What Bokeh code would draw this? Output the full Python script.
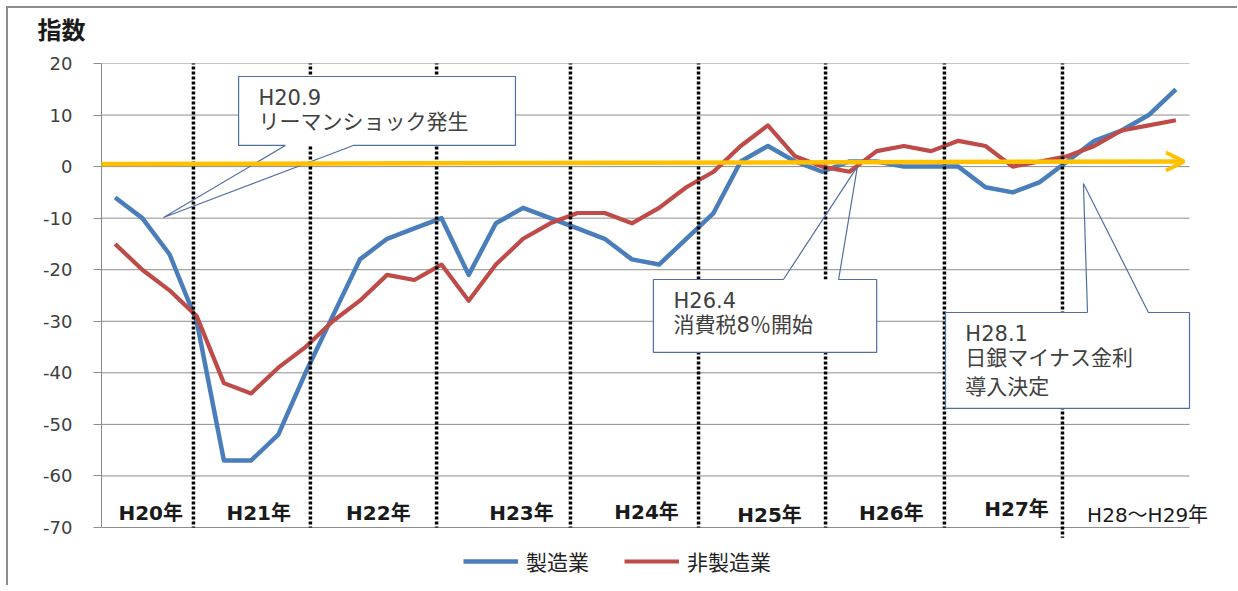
from bokeh.plotting import figure
from bokeh.models import Range1d, FixedTicker, Legend, LegendItem, Arrow, OpenHead
from bokeh.core.properties import value
from bokeh.embed import file_html
from bokeh.resources import INLINE

# ---- data (quarterly, H20 Q1 .. H29 Q4) ----
QUARTER_INDEX = list(range(40))
MANUFACTURING = [-6, -10, -17, -30, -57, -57, -52, -40, -29, -18, -14, -12,
                 -10, -21, -11, -8, -10, -12, -14, -18, -19, -14, -9, 1,
                 4, 1, -1, 1, 1, 0, 0, 0, -4, -5, -3, 1, 5, 7, 10, 15]
NON_MANUFACTURING = [-15, -20, -24, -29, -42, -44, -39, -35, -30, -26, -21, -22,
                     -19, -26, -19, -14, -11, -9, -9, -11, -8, -4, -1, 4,
                     8, 2, 0, -1, 3, 4, 3, 5, 4, 0, 1, 2, 4, 7, 8, 9]
YEAR_LABELS = ["H20年", "H21年", "H22年", "H23年", "H24年", "H25年", "H26年", "H27年"]
LAST_LABEL = "H28～H29年"
SERIES_NAMES = ["製造業", "非製造業"]
Y_TICKS = [20, 10, 0, -10, -20, -30, -40, -50, -60, -70]

# ---- layout positions (data units) ----
YEAR_X = [1.31, 5.28, 9.68, 14.94, 19.54, 24.06, 28.54, 33.14]
YEAR_Y = [-67.1, -67.1, -67.1, -67.1, -66.9, -67.5, -67.1, -66.4]
DIVIDER_X = [2.88, 7.18, 11.82, 16.74, 21.45, 26.12, 30.49, 34.83]
DIVIDER_Y1 = [-70, -70, -70, -70, -70, -70, -70, -72]

JP = "Noto Sans CJK JP"
MIX = "DejaVu Sans, Noto Sans CJK JP"
BLUE = "#4a7ebb"
RED = "#be4b48"
GOLD = "#ffc000"
GRID = "#8c8c8c"
CALL = "#4f6fa3"
TXT = "#404040"

p = figure(frame_width=1136, frame_height=522, output_backend="svg", toolbar_location=None,
           x_range=Range1d(-0.5, -0.5 + 1136 / 27.2), y_range=Range1d(-81.25, 20),
           min_border_left=93, min_border_right=0, min_border_top=55, min_border_bottom=0)
p.styles = {"margin": "6px 0px 0px 6px",
            "border-left": "2px solid #8c8c8c", "border-top": "2px solid #8c8c8c"}
p.outline_line_color = None
p.background_fill_color = "white"
p.border_fill_color = "white"

p.title.text = "指数"
p.title.text_font = JP
p.title.text_font_size = "24px"
p.title.text_font_style = "bold"
p.title.text_color = "#1a1a1a"
p.title.align = "left"
p.title.padding = {"left": 0, "right": 0, "top": 0, "bottom": 18}
p.title.offset = -64
p.title.standoff = 0

p.xaxis.visible = False
p.xgrid.visible = False
p.ygrid.visible = False
p.yaxis.ticker = FixedTicker(ticks=Y_TICKS)
p.yaxis.major_label_overrides = {float(t): str(t) for t in Y_TICKS}
p.yaxis.bounds = (-70, 20)
p.yaxis.axis_line_color = GRID
p.yaxis.major_tick_line_color = GRID
p.yaxis.major_tick_out = 8
p.yaxis.major_tick_in = 0
p.yaxis.minor_tick_line_color = None
p.yaxis.major_label_text_font = "DejaVu Sans"
p.yaxis.major_label_text_font_size = "18px"
p.yaxis.major_label_text_color = TXT
p.yaxis.major_label_standoff = 21

# horizontal grid lines limited to the plotting area
p.segment(x0=[-0.5] * len(Y_TICKS), x1=[39.5] * len(Y_TICKS), y0=Y_TICKS, y1=Y_TICKS,
          line_color=GRID, line_width=1)

# data lines
r_m = p.line(QUARTER_INDEX, MANUFACTURING, line_color=BLUE, line_width=4.5, line_join="round")
r_n = p.line(QUARTER_INDEX, NON_MANUFACTURING, line_color=RED, line_width=4.2, line_join="round")

# dotted year dividers
p.segment(x0=DIVIDER_X, y0=[20.4] * len(DIVIDER_X), x1=DIVIDER_X, y1=DIVIDER_Y1,
          line_color="black", line_width=3.5, line_dash="3 2")

# yellow arrow
p.add_layout(Arrow(end=OpenHead(size=18, line_color=GOLD, line_width=4),
                   x_start=-0.68, y_start=0.5, x_end=39.3, y_end=1.0,
                   line_color=GOLD, line_width=4.5))

# callout boxes
p.quad(left=[4.54, 19.79, 30.53], right=[14.72, 28.0, 39.5],
       top=[17.48, -21.9, -28.3], bottom=[4.10, -36.05, -46.9],
       fill_color="white", line_color=None)
p.line([6.26, 1.78, 8.76, 14.72, 14.72, 4.54, 4.54, 6.26],
       [4.10, -9.87, 4.10, 4.10, 17.48, 17.48, 4.10, 4.10], line_color=CALL, line_width=1.2)
p.line([24.57, 27.29, 26.6, 28.0, 28.0, 19.79, 19.79, 24.57],
       [-21.9, 0.0, -21.9, -21.9, -36.05, -36.05, -21.9, -21.9], line_color=CALL, line_width=1.2)
p.line([35.75, 35.6, 37.99, 39.5, 39.5, 30.53, 30.53, 35.75],
       [-28.3, -3.28, -28.3, -28.3, -46.9, -46.9, -28.3, -28.3], line_color=CALL, line_width=1.2)

p.text(x=[5.27, 5.27], y=[13.4, 8.56], text=["H20.9", "リーマンショック発生"],
       text_font=value(MIX), text_font_size="21px", text_color=TXT,
       text_align="left", text_baseline="middle")
p.text(x=[20.53, 20.53], y=[-26.0, -30.8], text=["H26.4", "消費税8％開始"],
       text_font=value(MIX), text_font_size="21px", text_color=TXT,
       text_align="left", text_baseline="middle")
p.text(x=[31.26, 31.26, 31.26], y=[-32.4, -37.2, -42.8], text=["H28.1", "日銀マイナス金利", "導入決定"],
       text_font=value(MIX), text_font_size="21px", text_color=TXT,
       text_align="left", text_baseline="middle")

# year labels
p.text(x=YEAR_X, y=YEAR_Y, text=YEAR_LABELS, text_font=value(MIX), text_font_size="20px",
       text_font_style="bold", text_color="#1a1a1a", text_align="center", text_baseline="middle")
p.text(x=[37.96], y=[-67.5], text=[LAST_LABEL], text_font=value(MIX), text_font_size="20px",
       text_color="#1a1a1a", text_align="center", text_baseline="middle")

legend = Legend(items=[LegendItem(label=SERIES_NAMES[0], renderers=[r_m]),
                       LegendItem(label=SERIES_NAMES[1], renderers=[r_n])],
                orientation="horizontal", location=(362, 9), margin=0, padding=0,
                glyph_width=55, glyph_height=20, label_standoff=8, spacing=35,
                label_text_font=JP, label_text_font_size="21px", label_text_color="#222222",
                border_line_color=None, background_fill_alpha=0)
p.add_layout(legend)

open("out.html", "w").write(file_html(p, INLINE))
